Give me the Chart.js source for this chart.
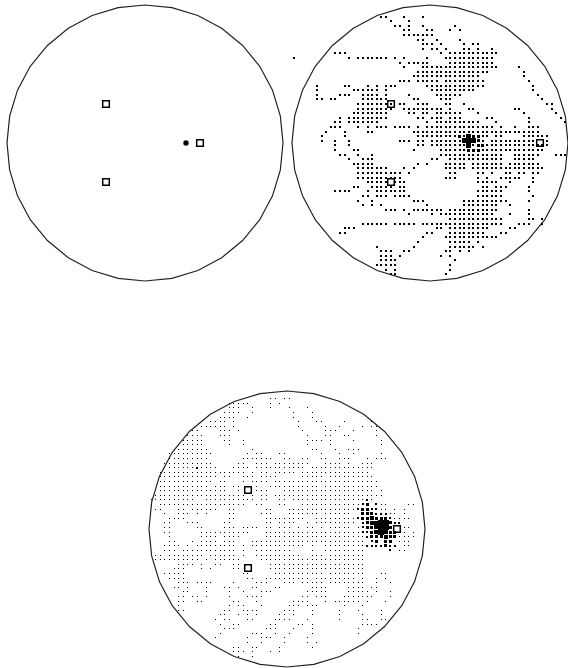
<!DOCTYPE html>
<html><head><meta charset="utf-8">
<script src="https://cdn.jsdelivr.net/npm/chart.js@4"></script>
<style>html,body{margin:0;padding:0;background:#fff;overflow:hidden;width:568px;height:668px;position:relative}canvas{position:absolute}</style>
</head><body>
<canvas id="a" width="300" height="300" style="left:-5px;top:-7px"></canvas>
<canvas id="b" width="300" height="300" style="left:280px;top:-7px"></canvas>
<canvas id="c" width="300" height="300" style="left:137px;top:379px"></canvas>
<script>
const outlineX=[0,.1951,.3827,.5556,.7071,.8315,.9239,.9808,1,.9808,.9239,.8315,.7071,.5556,.3827,.1951,0,-.1951,-.3827,-.5556,-.7071,-.8315,-.9239,-.9808,-1,-.9808,-.9239,-.8315,-.7071,-.5556,-.3827,-.1951,0];
const outlineY=[1,.9808,.9239,.8315,.7071,.5556,.3827,.1951,0,-.1951,-.3827,-.5556,-.7071,-.8315,-.9239,-.9808,-1,-.9808,-.9239,-.8315,-.7071,-.5556,-.3827,-.1951,0,.1951,.3827,.5556,.7071,.8315,.9239,.9808,1];
const stationX=[-.283,-.283,.797];
const stationY=[.283,-.283,0];
const station1X=[-.283,-.283,.4];
const station1Y=[.283,-.283,0];
const sourceX=[.297];
const sourceY=[0];

const net2Rows=["19 20 24 28","21 25","22 23 25 28 35","24 25 29 30 34 36","24-30","27 28 31 36","28 29 30 32 37 39 40","28 30 31 33 37 38 40 43",
"9 10 11 32 34-44","0 12 14-20 22 24 29 33-43","23 25-29 34-43","24 28-44 49","27-42 50","26-40 50","23 24 25 27-31 33-41 51",
"5 11 12 16 18 20 21 22 29-41 52","5 13-18 20 30-39 52","5 10 11 12 15-18 20 25 31-36 53","5 6 8 9 15-20 26 27 32 33 34 54",
"14-21 23 24 27 28 29 33 34 37 55 56","14-21 24-32 34 38 39 48 49 56","13-20 25 26 28 29 31-36 40 50 57","10 12-20 27 28 30 31 32 34 35 36 42 43 51 58",
"9 10 12-18 29 31-40 44 51 59","8 9 10 14 16 18 19 20 22-25 27 29-43 45 48 51 52 53","7 11 16 17 26-53","6 11 27-42 44 45 50-55",
"6 9 12 23 24 25 27 28 30-41 43-52 55","9 12 27 28 30-55","9 13 14 26 32-54","10 11 14 17 32-45 48-53 57 58 59","12 15 16 17 30 31 34-45 48-52",
"13-17 27 29 33-37 39-45 47-53","14-20 24 26 33-37 39-54","14-23 25 34 35 40 41 43 46 47 49 50 52 53","14-23 33 34 35 40 42 45-49 52",
"16-20 22 23 24 40-44 47 52","13 14 17-21 23 24 41 42 44 45 46 51","9-12 16 18-24 40-45 51","15 16 18 19 20 22-25 40-45 52","14 17 26 27 28 37-46 51",
"15 17 19 29 37-44 47","20 21 22 24 26-32 34-44 51","25 30 32-43 47 51","34-45 51 52 54","15-20 22-26 28-45 49 50 51 54","11 12 13 31 32 34-42 47 48",
"10 11 29 30 34-41 45 46","28 33-44","27 34-38 40","18 26 34-39 41","19 20 21 24 25 33 34 36 38","19 20 21 23 32 34","19-22 35","18-22 34","20 22 34","21 22 33"];
const net2Medium=["","","","","","","","","","","","","","","","","","","","","","","","","","","36 39 40","40","40 41","38 39 40"];
const net2Large=["","","","","","","","","","","","","","","","","","","","","","","","","","","38","37 38 39","38"];

const net3Rows=["26 27 29 30","17-21 26 28","17 18 19 22 26 30 34","16-19 22 31 35","15-18 21 31 35","13-16 18 32 36 37 42 48","11-16 18 32 38 41 46 48 49",
"9 10 15 16 17 19 33 38 39 40 44 49","8-11 15 16 17 34 38 39 42 43 49","7-11 16 17 20 34-37 39 44 50","6-11 17 20 34 39 50","5-12 22 35 36 40 43 44 45",
"4-13 21 23 24 28 29 37 41 44 50","4-12 20-26 29 30 33 34 37 38 41 42 43 47 49 50 51","3-13 19 20 23 24 25 27-34 38-41 43 46 47 48","3-14 18-21 23-33 35-48",
"2-20 22 24 25 27-31 33-47","2-14 16 17 20 21 22 24-27 33-37 39-48","2-13 15 16 20 22-25 27-49","2-12 14 15 16 18 19 23 26-36 38-49","2-16 19 23 24 25 29-48 50",
"1-20 22 24 25 27-50","0-9 12-22 24 25 28 29 31-46 48","0 2-20 23 24 28 29 33-45 49 50 51 56 57","1 2 6 7 9-14 17 18 25 26 30-44 50 51 53 55",
"3 6 7 8 10 12 17 18 24 25 26 30-36 38-43 52 53 55","4-7 17 18 25-33 36-44 53-56","3 4 8 9 10 16 17 25 26 28-31 34 36-44 54",
"3 4 10 11 16 17 18 20-23 25 26 28 29 30 32 34 35 37 39-43 45 46 55 56","3 4 11-21 25-46 52 53 55 57","4 11-14 16-19 25-47 54-57","4 5 9 11-14 16 17 18 22-46 54 55 56",
"3-6 8 10-18 20 22-33 35 38-46 55 56","3 4 5 7-18 20 23-30 35 38-46 54 55","1 2 4-11 13-18 20 23-32 35 36 37 39-46","1-10 12 14-19 24-46","6-9 11 14 15 18 19 26-46",
"5 6 7 11 13 18 19 26-46","3-7 20 21 27-37 39-46 50 51","4-7 21 22 25-34 36-44 46 49 51","6 7 8 10-13 18 23 24 25 29 30 31 33-37 39-46 49 52",
"5 6 8 12 16 17 19 22 23 27 28 35-38 43-46 48 49","7 8 12 17 20 24 25 26 34-38 43-47 49 52","6 7 9 10 12 17 21-24 33 34 36 37 38 42-48 52",
"6 7 10 11 18 19 23 31-34 38 40-45 47 51","6 17 19 20 24 30 31 32 34 35 36 42 46","6 7 16 17 20-23 29 30 31 35 41 45 50","15 16 19 21 23 28 29 31 35 41 46 50",
"14 16 17 21 22 27-30 34 41 46 47 50 51","15 18 19 26 27 32 33 35 46-49","16 17 18 25 26 27 31 35 45","15 22 23 24 27 30 35 45","14 21 24 25 26 29 34","21 24 29 34 36",
"18 19 22 23 28 35","18 19 20 22 26 28","19 22"];
const net3Small=["","","","","","","","","","","","","","","","10","","","","","","","47","46 49","45 48 49","49 50 51","45 52","46 53 54","46","46 47","47","48","47 48 49 50 52 53","52"];
const net3Medium=["","","","","","","","","","","","","","","","","","","","","","","","47","46 47","46 47 48","46 47 49 50 51","47 52","47 48 52","48 52 53","48 49 50 52 53","49 51 52","51"];
const net3Large=["","","","","","","","","","","","","","","","","","","","","","","","","","","48","48 49","49","49 51","51"];
const net3Core=["","","","","","","","","","","","","","","","","","","","","","","","","","","","50 51","50 51","50"];

const R=138, half=150, GRID=30, COL0=29.565, ROW2=27.46, ROW3=28.33;
const parse=s=>s.split(" ").filter(Boolean).flatMap(t=>{const m=t.split("-").map(Number);if(m.length<2)return m;const o=[];for(let i=m[0];i<=m[1];i++)o.push(i);return o;});
const snap=(v,size)=>{const h=size%2?.5:0;return (Math.round(v*R-h)+h)/R;};
const pts=(rows,row0,size)=>rows.flatMap((s,r)=>parse(s).map(c=>({x:snap((c-COL0)/GRID,size),y:snap((row0-r)/GRID,size)})));
const zip=(xs,ys)=>xs.map((x,i)=>({x,y:ys[i]}));
const dots=(rows,row0,size)=>({data:pts(rows,row0,size),showLine:false,pointStyle:"rect",pointRadius:size*Math.SQRT1_2,pointBorderWidth:0,pointBackgroundColor:"#000",pointBorderColor:"#000"});
const squares=(xs,ys)=>({data:xs.map((x,i)=>({x:snap(x,2),y:snap(ys[i],2)})),showLine:false,pointStyle:"rect",pointRadius:6.6*Math.SQRT1_2,pointBorderWidth:1.5,pointBackgroundColor:"#fff",pointBorderColor:"#000"});
const outline=()=>({data:zip(outlineX,outlineY),showLine:true,pointRadius:0,borderColor:"#222",borderWidth:1.2,tension:0});
function net(id,datasets){
  const lim=half/R;
  new Chart(document.getElementById(id),{type:"scatter",data:{datasets},options:{
    responsive:false,animation:false,events:[],layout:{padding:0,autoPadding:false},
    plugins:{legend:{display:false},tooltip:{enabled:false}},
    scales:{x:{type:"linear",min:-lim,max:lim,display:false},y:{type:"linear",min:-lim,max:lim,display:false}}
  }});
}
net("a",[
  {data:zip(sourceX,sourceY),showLine:false,pointStyle:"circle",pointRadius:2.7,pointBorderWidth:0,pointBackgroundColor:"#000"},
  squares(station1X,station1Y),outline()]);
net("b",[
  dots(net2Large,ROW2,5),dots(net2Medium,ROW2,3),dots(net2Rows,ROW2,2),
  squares(stationX,stationY),outline()]);
net("c",[
  dots(net3Core,ROW3,6),dots(net3Large,ROW3,4),dots(net3Medium,ROW3,3),dots(net3Small,ROW3,2),dots(net3Rows,ROW3,1),
  squares(stationX,stationY),outline()]);
</script>
</body></html>
